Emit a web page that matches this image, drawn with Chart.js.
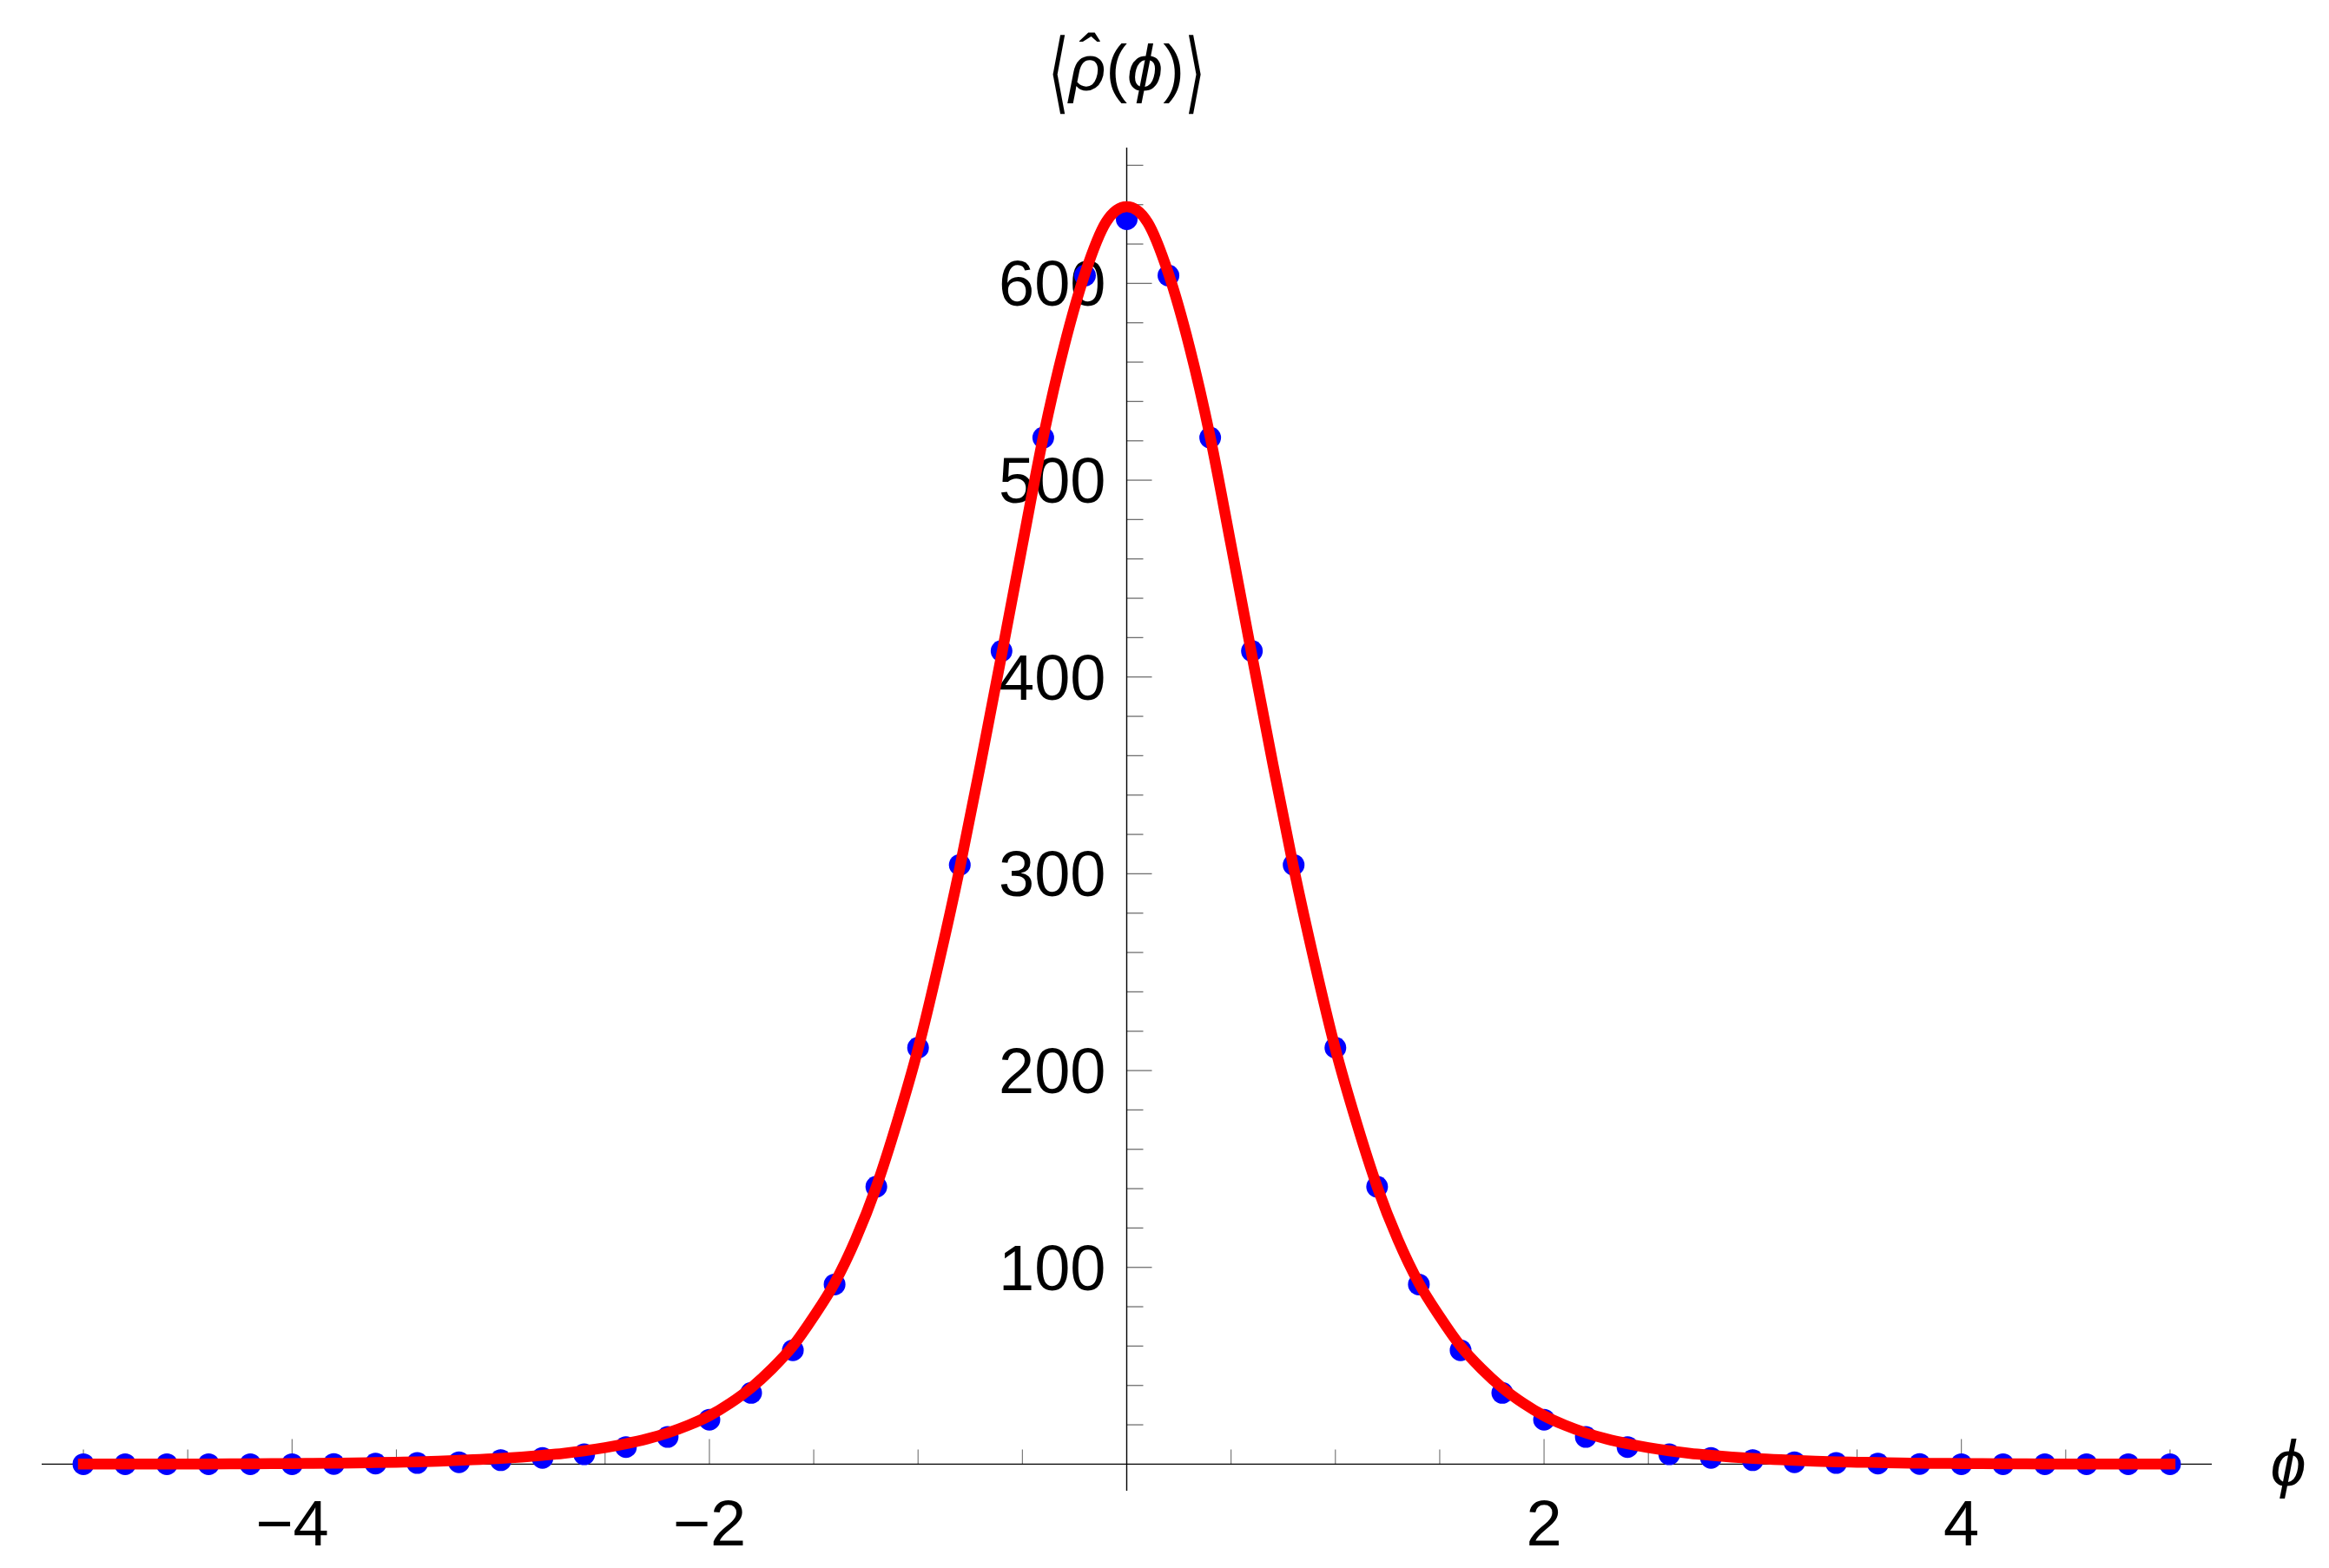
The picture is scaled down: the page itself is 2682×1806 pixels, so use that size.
<!DOCTYPE html>
<html>
<head>
<meta charset="utf-8">
<script src="https://cdn.jsdelivr.net/npm/chart.js@4"></script>
<style>
  html, body { margin: 0; padding: 0; background: #fff; }
  canvas { display: block; }
</style>
</head>
<body>
<canvas id="myChart" width="2682" height="1806"></canvas>
<script>
// sampled values (blue dots)
const phiPoints = [
  -5.0, -4.8, -4.6, -4.4, -4.2, -4.0, -3.8, -3.6, -3.4, -3.2,
  -3.0, -2.8, -2.6, -2.4, -2.2, -2.0, -1.8, -1.6, -1.4, -1.2,
  -1.0, -0.8, -0.6, -0.4, -0.2, 0.0, 0.2, 0.4, 0.6, 0.8,
  1.0, 1.2, 1.4, 1.6, 1.8, 2.0, 2.2, 2.4, 2.6, 2.8,
  3.0, 3.2, 3.4, 3.6, 3.8, 4.0, 4.2, 4.4, 4.6, 4.8, 5.0,
];
const rhoPoints = [
  0, 0, 0, 0, 0, 0, 0.1, 0.3, 0.6, 1.0,
  2.0, 3.2, 5.0, 8.7, 13.8, 22.6, 36.2, 57.9, 91.3, 141,
  211.6, 304.5, 413.2, 521.6, 604, 632.6, 604, 521.6, 413.2, 304.5,
  211.6, 141, 91.3, 57.9, 36.2, 22.6, 13.8, 8.7, 5.0, 3.2,
  2.0, 1.0, 0.6, 0.3, 0.1, 0, 0, 0, 0, 0, 0,
];

// red curve, read every 0.1
const phiCurve = [
  -5.0, -4.9, -4.8, -4.7, -4.6, -4.5, -4.4, -4.3, -4.2, -4.1,
  -4.0, -3.9, -3.8, -3.7, -3.6, -3.5, -3.4, -3.3, -3.2, -3.1,
  -3.0, -2.9, -2.8, -2.7, -2.6, -2.5, -2.4, -2.3, -2.2, -2.1,
  -2.0, -1.9, -1.8, -1.7, -1.6, -1.5, -1.4, -1.3, -1.2, -1.1,
  -1.0, -0.9, -0.8, -0.7, -0.6, -0.5, -0.4, -0.3, -0.2, -0.1,
  0.0,
  0.1, 0.2, 0.3, 0.4, 0.5, 0.6, 0.7, 0.8, 0.9, 1.0,
  1.1, 1.2, 1.3, 1.4, 1.5, 1.6, 1.7, 1.8, 1.9, 2.0,
  2.1, 2.2, 2.3, 2.4, 2.5, 2.6, 2.7, 2.8, 2.9, 3.0,
  3.1, 3.2, 3.3, 3.4, 3.5, 3.6, 3.7, 3.8, 3.9, 4.0,
  4.1, 4.2, 4.3, 4.4, 4.5, 4.6, 4.7, 4.8, 4.9, 5.0,
];
const rhoCurve = [
  0.03, 0.04, 0.05, 0.06, 0.08, 0.1, 0.12, 0.15, 0.2, 0.25,
  0.3, 0.4, 0.5, 0.6, 0.8, 1.0, 1.2, 1.5, 1.9, 2.4,
  2.9, 3.6, 4.5, 5.5, 6.8, 8.4, 10.4, 12.8, 15.9, 19.8,
  24.6, 31.0, 38.8, 48.5, 60, 75, 92, 114, 141, 174,
  211, 255, 303, 356, 411, 467, 522, 568, 605, 631,
  639,
  631, 605, 568, 522, 467, 411, 356, 303, 255, 211,
  174, 141, 114, 92, 75, 60, 48.5, 38.8, 31.0, 24.6,
  19.8, 15.9, 12.8, 10.4, 8.4, 6.8, 5.5, 4.5, 3.6, 2.9,
  2.4, 1.9, 1.5, 1.2, 1.0, 0.8, 0.6, 0.5, 0.4, 0.3,
  0.25, 0.2, 0.15, 0.12, 0.1, 0.08, 0.06, 0.05, 0.04, 0.03,
];

const xTickValues = [-4, -2, 2, 4];
const xTickLabels = ["−4", "−2", "2", "4"];
const yTickValues = [100, 200, 300, 400, 500, 600];
const yTickLabels = ["100", "200", "300", "400", "500", "600"];

const sansFont = "'Liberation Sans', Arial, sans-serif";
const tickFont = "74px " + sansFont;

// draws a row of text pieces centred on cx
function drawRuns(ctx, runs, cx, baseline) {
  const widths = runs.map((r) => {
    ctx.font = r.font;
    return ctx.measureText(r.text).width + (r.padL || 0) + (r.padR || 0);
  });
  let px = cx - widths.reduce((a, b) => a + b, 0) / 2;
  runs.forEach((r, i) => {
    ctx.font = r.font;
    ctx.textAlign = "left";
    const tx = px + (r.padL || 0);
    if (r.tall) {
      // stretched delimiter, thin like Mathematica's
      const m = ctx.measureText(r.text);
      const asc = m.actualBoundingBoxAscent;
      const desc = m.actualBoundingBoxDescent;
      ctx.save();
      ctx.translate(tx, baseline + r.tall.center);
      ctx.scale(1, r.tall.height / (asc + desc));
      ctx.fillText(r.text, 0, (asc - desc) / 2);
      ctx.restore();
    } else {
      ctx.fillText(r.text, tx, baseline);
    }
    if (r.hat) {
      ctx.textAlign = "center";
      ctx.fillText("ˆ", px + widths[i] / 2 + r.hat.dx, baseline + r.hat.dy);
    }
    px += widths[i];
  });
}

// Mathematica style axes: lines through the origin, ticks pointing inwards
const originAxes = {
  id: "originAxes",
  beforeDatasetsDraw(chart) {
    const { ctx, chartArea } = chart;
    const xs = chart.scales.x;
    const ys = chart.scales.y;
    const x0 = xs.getPixelForValue(0);
    const y0 = ys.getPixelForValue(0);

    ctx.save();
    // tick labels
    ctx.fillStyle = "#000";
    ctx.font = tickFont;
    ctx.textBaseline = "alphabetic";
    ctx.textAlign = "right";
    yTickValues.forEach((v, i) => {
      ctx.fillText(yTickLabels[i], x0 - 24, ys.getPixelForValue(v) + 26);
    });
    ctx.textAlign = "center";
    xTickValues.forEach((v, i) => {
      ctx.fillText(xTickLabels[i], xs.getPixelForValue(v), y0 + 94);
    });

    // ticks
    ctx.strokeStyle = "#6f6f6f";
    ctx.lineWidth = 1.3;
    for (let v = 20; v <= 660; v += 20) {
      const len = v % 100 === 0 ? 29 : 19;
      const py = ys.getPixelForValue(v);
      ctx.beginPath();
      ctx.moveTo(x0, py);
      ctx.lineTo(x0 + len, py);
      ctx.stroke();
    }
    ctx.lineWidth = 1.1;
    for (let k = -10; k <= 10; k++) {
      if (k === 0) continue;
      const len = k % 4 === 0 ? 29 : 17;
      const px = xs.getPixelForValue(k / 2);
      ctx.beginPath();
      ctx.moveTo(px, y0);
      ctx.lineTo(px, y0 - len);
      ctx.stroke();
    }

    // axis lines
    ctx.strokeStyle = "#000";
    ctx.lineWidth = 1.4;
    ctx.beginPath();
    ctx.moveTo(chartArea.left, y0);
    ctx.lineTo(chartArea.right, y0);
    ctx.moveTo(x0, chartArea.top);
    ctx.lineTo(x0, chartArea.bottom);
    ctx.stroke();
    ctx.restore();
  },
  afterDraw(chart) {
    const { ctx, chartArea } = chart;
    const x0 = chart.scales.x.getPixelForValue(0);
    const y0 = chart.scales.y.getPixelForValue(0);
    ctx.save();
    ctx.fillStyle = "#000";
    ctx.textBaseline = "alphabetic";
    const bracket = "62px 'DejaVu Sans', sans-serif";
    const upright = "74px " + sansFont;
    const italic = "italic 74px " + sansFont;
    const tall = { height: 94, center: -18 };
    drawRuns(ctx, [
      { text: "⟨", font: bracket, tall, padL: 6 },
      { text: "ρ", font: italic, hat: { dx: 0, dy: -12 } },
      { text: "(", font: upright },
      { text: "ϕ", font: italic },
      { text: ")", font: upright },
      { text: "⟩", font: bracket, tall, padR: 6 },
    ], x0, chartArea.top - 66);
    drawRuns(ctx, [{ text: "ϕ", font: italic }], chartArea.right + 88, y0 + 25);
    ctx.restore();
  },
};

new Chart(document.getElementById("myChart"), {
  type: "scatter",
  data: {
    datasets: [
      {
        label: "curve",
        data: phiCurve.map((p, i) => ({ x: p, y: rhoCurve[i] })),
        showLine: true,
        fill: false,
        borderColor: "#ff0000",
        borderWidth: 12.5,
        borderCapStyle: "square",
        cubicInterpolationMode: "monotone",
        pointRadius: 0,
        order: 0,
      },
      {
        label: "points",
        data: phiPoints.map((p, i) => ({ x: p, y: rhoPoints[i] })),
        backgroundColor: "#0000ff",
        borderWidth: 0,
        pointRadius: 12.5,
        order: 1,
      },
    ],
  },
  options: {
    responsive: false,
    animation: false,
    devicePixelRatio: 1,
    events: [],
    layout: { padding: { left: 48, right: 135, top: 170, bottom: 89 } },
    plugins: {
      legend: { display: false },
      tooltip: { enabled: false },
    },
    scales: {
      x: {
        type: "linear",
        min: -5.2,
        max: 5.2,
        position: { y: 0 },
        grid: { display: false, drawTicks: false },
        border: { display: false },
        afterBuildTicks: (scale) => {
          scale.ticks = xTickValues.map((v) => ({ value: v }));
        },
        ticks: { display: false },
      },
      y: {
        type: "linear",
        min: -13.5,
        max: 669,
        position: { x: 0 },
        grid: { display: false, drawTicks: false },
        border: { display: false },
        afterBuildTicks: (scale) => {
          scale.ticks = yTickValues.map((v) => ({ value: v }));
        },
        ticks: { display: false },
      },
    },
  },
  plugins: [originAxes],
});
</script>
</body>
</html>
